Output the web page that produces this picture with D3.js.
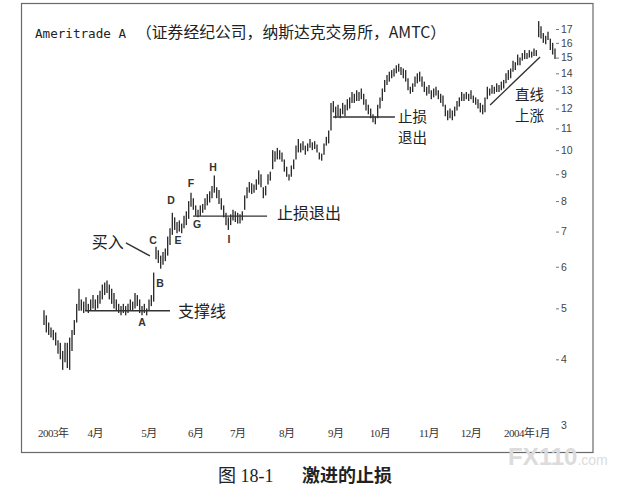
<!DOCTYPE html>
<html><head><meta charset="utf-8">
<script src="https://cdn.jsdelivr.net/npm/d3@7"></script>
<style>body{margin:0;background:#fff}svg{display:block}</style>
</head><body>
<svg id="c" width="638" height="498"></svg>
<script>
// Daily high / low prices (Ameritrade A, Mar 2003 - Jan 2004)
const highs = [
4.96,4.85,4.7,4.6,4.55,4.5,4.35,4.3,4.15,4.3,4.3,4.4,4.55,4.75,5.1,5.45,5.2,5.15,
5.25,5.1,5.2,5.3,5.2,5.3,5.4,5.55,5.6,5.65,5.55,5.45,5.35,5.2,5.1,5.05,5.1,5.05,5.1,5.2,5.15,
5.35,5.3,5.2,5.05,5.1,5.0,5.2,5.3,
5.85,6.55,6.45,6.3,6.4,6.5,6.85,7.1,7.6,7.45,7.3,7.35,7.25,7.5,7.65,8.0,8.3,8.1,7.85,7.7,7.85,7.9,
8.1,8.25,8.35,8.55,8.95,8.5,8.4,8.1,7.85,7.6,7.45,7.55,7.7,7.65,7.6,7.55,7.65,8.2,8.5,8.7,8.65,8.6,
8.8,9.15,9.0,8.5,8.55,9.0,9.1,10.0,9.95,10.1,10.0,9.9,9.6,9.3,9.0,9.35,9.6,10.2,10.5,10.3,10.4,10.2,
10.3,10.5,10.35,10.4,10.25,9.9,9.85,10.3,10.6,10.9,12.3,12.4,12.1,12.2,12.0,12.3,12.2,12.5,12.6,12.9,
12.8,13.0,12.9,13.1,12.8,12.5,12.2,12.0,11.7,11.6,12.2,12.6,13.1,13.6,13.9,14.1,14.2,14.3,14.5,14.6,
14.4,14.3,14.2,13.7,13.2,13.4,13.8,14.0,14.1,13.8,13.5,13.2,13.3,13.0,13.1,13.2,13.0,12.8,12.7,12.2,
11.9,12.0,11.9,12.1,12.4,12.6,12.9,12.8,12.9,12.8,13.0,12.7,12.6,12.5,12.3,12.2,12.6,13.2,13.1,13.3,
13.2,13.4,13.3,13.5,13.6,14.0,14.2,14.3,14.8,14.7,15.2,15.0,15.3,15.5,15.3,15.5,15.4,15.6,15.5,17.6,
17.2,16.7,16.5,16.8,16.3,16.0,15.6
];
const lows = [
4.65,4.5,4.45,4.4,4.35,4.25,4.1,4.0,3.82,3.95,3.85,3.82,4.15,4.45,4.7,4.95,4.95,4.9,
4.95,4.9,4.95,5.0,4.95,5.0,5.1,5.2,5.3,5.35,5.2,5.1,5.0,4.95,4.9,4.85,4.9,4.85,4.9,4.95,4.95,
5.0,5.05,4.9,4.85,4.9,4.85,4.95,5.05,
5.15,6.2,6.1,5.95,6.05,6.15,6.3,6.6,6.9,7.05,6.95,7.0,6.95,7.1,7.2,7.4,7.8,7.7,7.5,7.45,7.5,7.6,
7.7,7.85,7.95,8.1,8.3,8.1,7.9,7.7,7.45,7.2,7.05,7.2,7.35,7.3,7.25,7.25,7.35,7.7,8.1,8.3,8.25,8.3,
8.4,8.6,8.5,8.1,8.2,8.6,8.75,9.2,9.5,9.6,9.6,9.5,9.1,8.9,8.75,8.9,9.2,9.6,9.9,9.9,10.0,9.8,
9.95,10.1,10.0,10.05,9.9,9.6,9.55,9.8,10.2,10.3,10.9,11.8,11.5,11.6,11.5,11.7,11.6,11.9,12.0,12.3,
12.3,12.4,12.4,12.5,12.2,11.9,11.7,11.5,11.3,11.2,11.5,12.0,12.4,12.9,13.3,13.5,13.7,13.8,14.0,14.1,
13.9,13.7,13.5,13.0,12.8,12.9,13.2,13.4,13.5,13.2,12.9,12.7,12.8,12.5,12.6,12.7,12.5,12.3,12.1,11.6,
11.4,11.5,11.4,11.6,11.9,12.1,12.4,12.4,12.5,12.4,12.5,12.3,12.2,12.0,11.8,11.7,11.8,12.5,12.7,12.8,
12.8,12.9,12.9,13.0,13.1,13.4,13.6,13.7,14.1,14.2,14.5,14.5,14.8,14.9,14.9,15.0,15.0,15.1,15.1,16.4,
16.3,16.0,15.9,16.2,15.5,15.2,14.9
];
const yTicks = [3,4,5,6,7,8,9,10,11,12,13,14,15,16,17];
const monthLabels = ["2003年","4月","5月","6月","7月","8月","9月","10月","11月","12月","2004年1月"];
const monthPos = [4,22,45,65,83,104,125,144,165,183,207];   // trading-day index of each label
const pointLabels = ["A","B","C","D","E","F","G","H","I"];
const pointIdx    = [42,49.7,46.7,54.4,57.4,63,65.6,72.4,79.3];
const pointPrice  = [4.71,5.59,6.75,8.04,6.75,8.66,7.24,9.26,6.77];
// reference lines: [startIdx, startPrice, endIdx, endPrice]
const refLines = [
  [17.6,4.95,54,4.95],        // 支撑线
  [63.9,7.49,95.6,7.49],      // 止损退出
  [123.9,11.56,150.4,11.56],  // 止损退出 (Sep-Oct)
  [191.2,12.19,212.6,15.04],  // 直线上涨
  [35.1,6.66,45.4,6.29]       // 买入 pointer
];
// notes: each entry may hold one or two lines
const noteTexts = [["支撑线"],["止损退出"],["止损","退出"],["直线","上涨"],["买入"]];
const noteIdx   = [57.4,99.9,151.7,201.9,20.5];
const notePrice = [4.93,7.59,11.56,12.76,6.69];
const noteSize  = [16,16,14.5,14.5,16];

const svg = d3.select("#c");
const N = highs.length;
const x = d3.scaleLinear().domain([0, N-1]).range([44, 555]);
const y = d3.scaleLog().domain([3, 17]).range([425, 29]);

// frame
svg.append("rect").attr("x",21.5).attr("y",3.5).attr("width",571.5).attr("height",449)
  .attr("fill","#fff").attr("stroke","#6a6a6a").attr("stroke-width",1.2);

// title
svg.append("text").attr("x",35).attr("y",38)
  .attr("font-family","DejaVu Sans Mono, monospace").attr("font-size",12.6).attr("fill","#222")
  .text("Ameritrade A");
svg.append("text").attr("x",136).attr("y",38)
  .attr("font-family","Noto Sans CJK SC, sans-serif").attr("font-size",15.8).attr("fill","#222")
  .text("（证券经纪公司，纳斯达克交易所，AMTC）");

// y axis
const yAxis = d3.axisRight(y).tickValues(yTicks).tickSize(3).tickPadding(2)
  .tickFormat(d3.format("d"));
const ga = svg.append("g").attr("transform","translate(556,0)").call(yAxis);
ga.select(".domain").remove();
ga.selectAll("line").attr("stroke","#777");
ga.selectAll("text").attr("font-family","Liberation Sans, Arial, sans-serif")
  .attr("font-size",10.5).attr("fill","#444");
ga.selectAll(".tick").filter(d=>d===3).select("line").remove();

// x labels
svg.append("g").selectAll("text").data(monthLabels).join("text")
  .attr("x",(d,i)=>x(monthPos[i])).attr("y",437).attr("text-anchor","middle")
  .attr("font-family","Liberation Serif, Noto Sans CJK SC, serif").attr("font-size",11)
  .attr("letter-spacing",-0.5).attr("fill","#333").text(d=>d);

// price bars
svg.append("g").selectAll("line").data(highs).join("line")
  .attr("x1",(d,i)=>x(i)).attr("x2",(d,i)=>x(i))
  .attr("y1",d=>y(d)).attr("y2",(d,i)=>y(lows[i]))
  .attr("stroke","#2e2e2e").attr("stroke-width",1.35);

// reference lines
svg.append("g").selectAll("line").data(refLines).join("line")
  .attr("x1",d=>x(d[0])).attr("y1",d=>y(d[1])).attr("x2",d=>x(d[2])).attr("y2",d=>y(d[3]))
  .attr("stroke","#333").attr("stroke-width",1.4);

// point labels
svg.append("g").selectAll("text").data(pointLabels).join("text")
  .attr("x",(d,i)=>x(pointIdx[i])).attr("y",(d,i)=>y(pointPrice[i]))
  .attr("dy","0.36em").attr("text-anchor","middle")
  .attr("font-family","Liberation Sans, Arial, sans-serif").attr("font-size",10.5)
  .attr("font-weight","bold").attr("fill","#333").text(d=>d);

// notes (multi-line notes as one text with tspans)
const notes = svg.append("g").selectAll("text").data(noteTexts).join("text")
  .attr("x",(d,i)=>x(noteIdx[i])).attr("y",(d,i)=>y(notePrice[i]))
  .attr("font-family","Noto Sans CJK SC, sans-serif").attr("font-size",(d,i)=>noteSize[i])
  .attr("fill","#222");
notes.each(function(lines,i){
  const t = d3.select(this);
  lines.forEach((s,k)=>{
    t.append("tspan").attr("x",x(noteIdx[i])).attr("dy", k===0 ? "0.36em" : "21px").text(s);
  });
});

// caption
svg.append("text").attr("x",218).attr("y",482)
  .attr("font-family","Liberation Serif, Noto Sans CJK SC, serif").attr("font-size",18).attr("fill","#222")
  .text("图 18-1");
svg.append("text").attr("x",302).attr("y",482)
  .attr("font-family","Noto Sans CJK SC, sans-serif").attr("font-size",18).attr("font-weight","bold")
  .attr("fill","#222").text("激进的止损");

// watermark
const wm = svg.append("text").attr("x",508).attr("y",465)
  .attr("font-family","Liberation Sans, Arial, sans-serif").attr("fill","#dcdcdc");
wm.append("tspan").attr("font-size",24).attr("font-weight","bold").text("FX110");
wm.append("tspan").attr("font-size",14).text(".com");
</script>
</body></html>
